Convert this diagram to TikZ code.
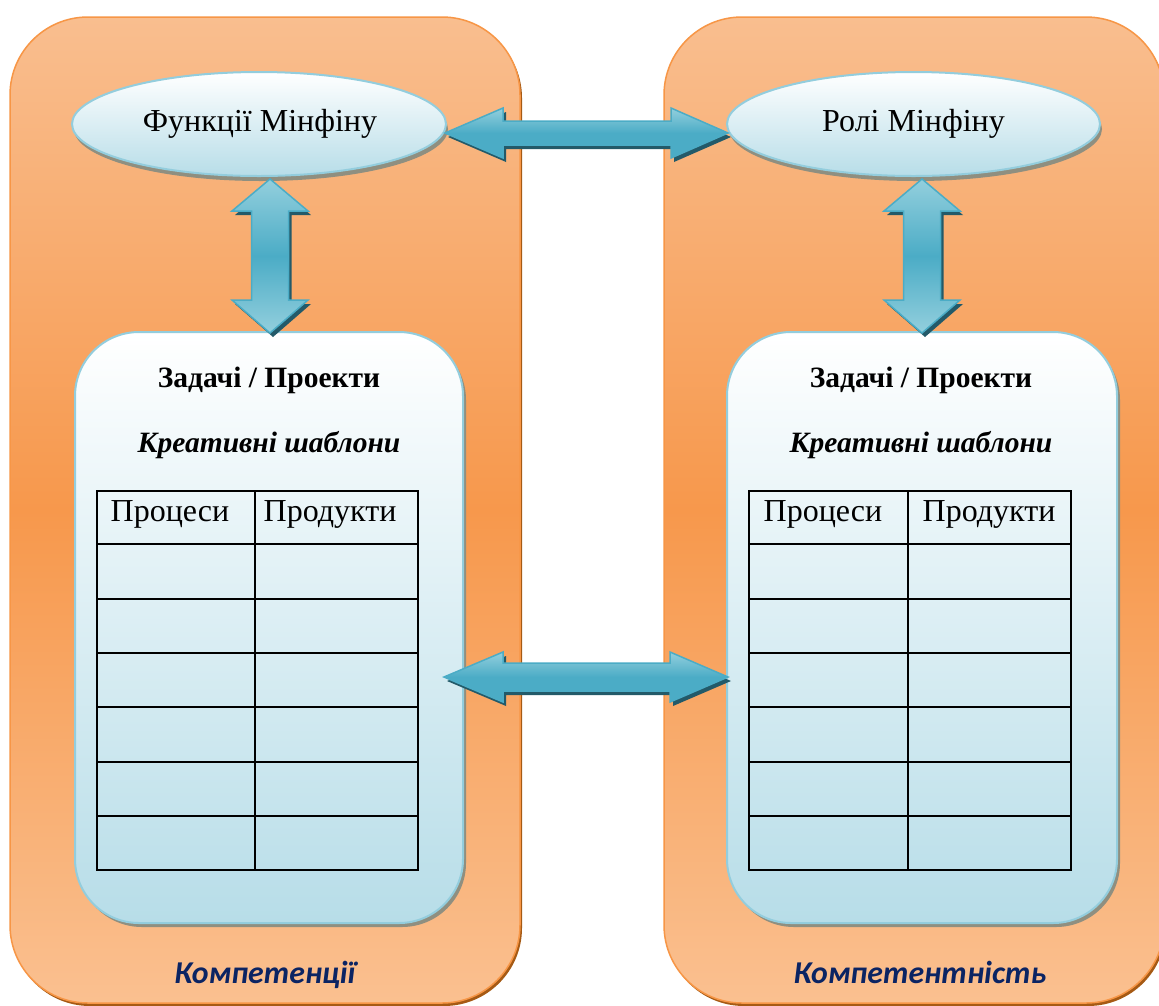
\documentclass[tikz,border=0pt]{standalone}
\usepackage{fontspec}
\setmainfont{Liberation Serif}
\newfontfamily\calib{Carlito}
\usetikzlibrary{shapes.geometric,shadows}
\definecolor{pTop}{HTML}{F9BE8F}
\definecolor{pMid}{HTML}{F7984C}
\definecolor{pBot}{HTML}{FAC090}
\definecolor{pBorder}{HTML}{F79646}
\definecolor{pShadow}{HTML}{A65A14}
\definecolor{bBot}{HTML}{B7DDE8}
\definecolor{bBorder}{HTML}{93CDDD}
\definecolor{gShadow}{HTML}{8F8F80}
\definecolor{aMain}{HTML}{4BACC6}
\definecolor{aLight}{HTML}{93CFDD}
\definecolor{aShadow}{HTML}{235A69}
\definecolor{navy}{HTML}{0B2463}
\begin{document}
\begin{tikzpicture}[x=1pt,y=-1pt,
  panel/.style={draw=pBorder, line width=1.5pt, rounded corners=78pt,
    top color=pTop, bottom color=pBot, middle color=pMid,
    inner sep=0pt, outer sep=0pt,
    drop shadow={shadow xshift=2pt, shadow yshift=-3pt, fill=pShadow, opacity=1}},
  oval/.style={ellipse, draw=bBorder, line width=2pt, top color=white, bottom color=bBot,
    inner sep=0pt, outer sep=0pt,
    drop shadow={shadow xshift=2pt, shadow yshift=-5pt, fill=gShadow, opacity=1}},
  ibox/.style={draw=bBorder, line width=2pt, rounded corners=64pt, top color=white, bottom color=bBot,
    inner sep=0pt, outer sep=0pt,
    drop shadow={shadow xshift=3pt, shadow yshift=-4pt, fill=gShadow, opacity=1}},
  ovaltext/.style={font=\fontsize{32}{36}\selectfont, inner sep=0pt, anchor=base},
  titletext/.style={font=\fontsize{29.5}{33}\selectfont\bfseries, inner sep=0pt, anchor=base},
  subtext/.style={font=\fontsize{29.5}{33}\selectfont\bfseries\itshape, inner sep=0pt, anchor=base},
  headtext/.style={font=\fontsize{32}{36}\selectfont, inner sep=0pt, anchor=base},
  labeltext/.style={font=\calib\fontsize{31.8}{35}\selectfont\bfseries\itshape, text=navy, inner sep=0pt, anchor=base},
  tbl/.style={line width=2pt, black},
  arrfillh/.style={draw=aMain, line width=1.5pt, top color=aLight, bottom color=aMain, middle color=aMain},
  arrfillv/.style={draw=aMain, line width=1.5pt, top color=aLight, bottom color=aLight, middle color=aMain},
  harr/.pic={
    \fill[aShadow] (3,4)--(61,-21)--(61,-8)--(229,-8)--(229,-21)--(286,4)--(229,29)--(229,16)--(61,16)--(61,29)--cycle;
    \path[arrfillh] (0,0)--(58,-25)--(58,-12)--(226,-12)--(226,-25)--(283,0)--(226,25)--(226,12)--(58,12)--(58,25)--cycle;
  },
  harrb/.pic={
    \fill[aShadow] (3,4)--(62,-21)--(62,-10)--(229,-10)--(229,-21)--(287,4)--(229,29)--(229,18)--(62,18)--(62,29)--cycle;
    \path[arrfillh] (0,0)--(59,-25)--(59,-14)--(226,-14)--(226,-25)--(284,0)--(226,25)--(226,14)--(59,14)--(59,25)--cycle;
  },
  varr/.pic={
    \fill[aShadow] (3,4)--(41,36)--(21.5,36)--(21.5,125)--(41,125)--(3,158)--(-35,125)--(-15.5,125)--(-15.5,36)--(-35,36)--cycle;
    \path[arrfillv] (0,0)--(38,32)--(18.5,32)--(18.5,121)--(38,121)--(0,154)--(-38,121)--(-18.5,121)--(-18.5,32)--(-38,32)--cycle;
  }
]
\useasboundingbox (0,0) rectangle (1159,1005);
\fill[white] (0,0) rectangle (1159,1005);

% panels
\node[panel, minimum width=510pt, minimum height=986pt] (lp) at (265,510) {};
\node[panel, minimum width=500pt, minimum height=986pt] (rp) at (914,510) {};

% inner boxes
\node[ibox, minimum width=388pt, minimum height=591pt] (lb) at (269,627.5) {};
\node[ibox, minimum width=390pt, minimum height=591pt] (rb) at (922,627.5) {};

% ellipses
\node[oval, minimum width=374pt, minimum height=104pt] (fe) at (259,124) {};
\node[oval, minimum width=373pt, minimum height=104pt] (re) at (913.5,124) {};
\node[ovaltext] (fet) at (260,131) {Функції Мінфіну};
\node[ovaltext] (ret) at (913.5,131) {Ролі Мінфіну};

% arrows
\pic at (445,133) {harr};
\pic at (444,677) {harrb};
\pic at (270,179) {varr};
\pic at (922,179) {varr};

% titles
\node[titletext] (lt) at (269,387) {Задачі / Проекти};
\node[titletext] (rt) at (921,387) {Задачі / Проекти};
\node[subtext] (ls) at (269,452) {Креативні шаблони};
\node[subtext] (rs) at (921,452) {Креативні шаблони};

% tables
\draw[tbl] (97,491) rectangle (418,870);
\draw[tbl] (255,491) -- (255,870);
\foreach \yy in {544,599,653,707,762,816} \draw[tbl] (97,\yy) -- (418,\yy);
\draw[tbl] (749,491) rectangle (1071,870);
\draw[tbl] (908,491) -- (908,870);
\foreach \yy in {544,599,653,707,762,816} \draw[tbl] (749,\yy) -- (1071,\yy);

\node[headtext] (lh1) at (170,521) {Процеси};
\node[headtext] (lh2) at (330,521) {Продукти};
\node[headtext] (rh1) at (823,521) {Процеси};
\node[headtext] (rh2) at (989,521) {Продукти};

% labels
\node[labeltext] (ll) at (265,983) {Компетенції};
\node[labeltext] (rl) at (920,983) {Компетентність};
\end{tikzpicture}
\end{document}
